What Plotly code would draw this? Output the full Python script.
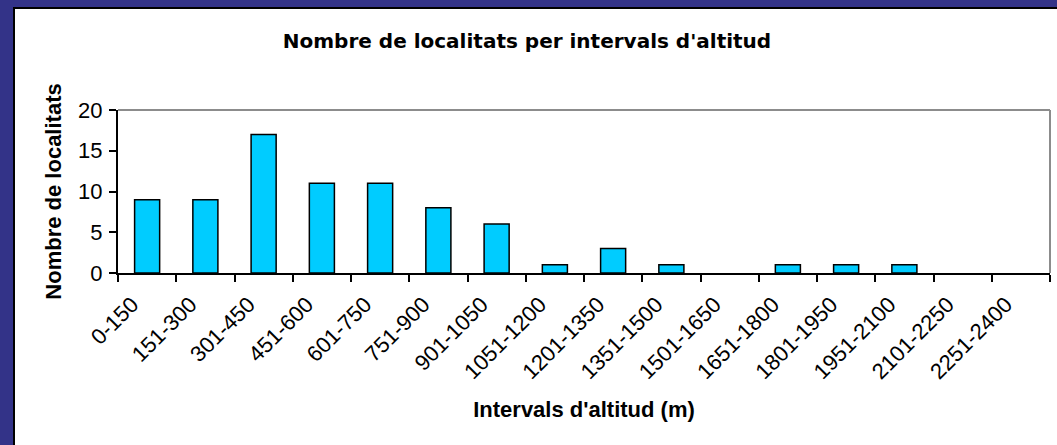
import plotly.graph_objects as go

categories = ["0-150", "151-300", "301-450", "451-600", "601-750", "751-900",
              "901-1050", "1051-1200", "1201-1350", "1351-1500", "1501-1650",
              "1651-1800", "1801-1950", "1951-2100", "2101-2250", "2251-2400"]
counts = [9, 9, 17, 11, 11, 8, 6, 1, 3, 1, 0, 1, 1, 1, 0, 0]
y_ticks = [0, 5, 10, 15, 20]

W, H = 1057, 445
L, R, T, B = 118, 1050, 110, 273  # plot area in px


def px_x(px):
    return (px - L) / (R - L)


def px_y(py):
    return (B - py) / (B - T)


fig = go.Figure()
fig.add_trace(go.Bar(
    x=categories, y=counts,
    marker=dict(color="#00CCFF",
                line=dict(color="black",
                          width=[1.5 if v > 0 else 0 for v in counts])),
))

shapes = [
    # white panel with black edge inside navy frame
    dict(type="rect", xref="paper", yref="paper",
         x0=px_x(14), x1=px_x(1070), y0=px_y(460), y1=px_y(8),
         fillcolor="white", line=dict(color="black", width=2), layer="below"),
    # gray top and right plot border
    dict(type="line", xref="paper", yref="paper", x0=0, x1=1, y0=1, y1=1,
         line=dict(color="#8c8c8c", width=2), layer="above"),
    dict(type="line", xref="paper", yref="paper", x0=1, x1=1, y0=0, y1=1,
         line=dict(color="#8c8c8c", width=2), layer="above"),
]

fig.update_layout(
    width=W, height=H,
    margin=dict(l=L, r=W - R, t=T, b=H - B, autoexpand=False),
    paper_bgcolor="#333388",
    plot_bgcolor="white",
    showlegend=False,
    bargap=0.57,
    shapes=shapes,
    title=dict(text="<b>Nombre de localitats per intervals d'altitud</b>",
               font=dict(family="DejaVu Sans", size=20, color="black"),
               x=527 / W, xref="container", xanchor="center",
               y=1 - 41 / H, yref="container", yanchor="middle"),
    xaxis=dict(
        type="category",
        tickangle=-45,
        tickson="boundaries",
        ticks="outside", ticklen=7, tickwidth=2, tickcolor="black",
        showline=True, linecolor="black", linewidth=2,
        showgrid=False, zeroline=False,
        tickfont=dict(family="Liberation Sans", size=22, color="black"),
        ticklabelshift=-15,
        ticklabelstandoff=8,
        title=dict(text="<b>Intervals d'altitud (m)</b>",
                   font=dict(family="Liberation Sans", size=22, color="black"),
                   standoff=18),
        automargin=False,
    ),
    yaxis=dict(
        range=[0, 20],
        tickvals=y_ticks,
        ticks="outside", ticklen=7, tickwidth=2, tickcolor="black",
        showline=True, linecolor="black", linewidth=2,
        showgrid=False, zeroline=False,
        tickfont=dict(family="Liberation Sans", size=22, color="black"),
        ticklabelstandoff=2,
        title=dict(text="<b>Nombre de localitats</b>",
                   font=dict(family="Liberation Sans", size=22, color="black"),
                   standoff=10),
        automargin=False,
    ),
)

fig.write_html("out.html",
               config={"displayModeBar": False},
               post_script="document.body.style.margin='0';"
                           "document.body.style.overflow='hidden';")
